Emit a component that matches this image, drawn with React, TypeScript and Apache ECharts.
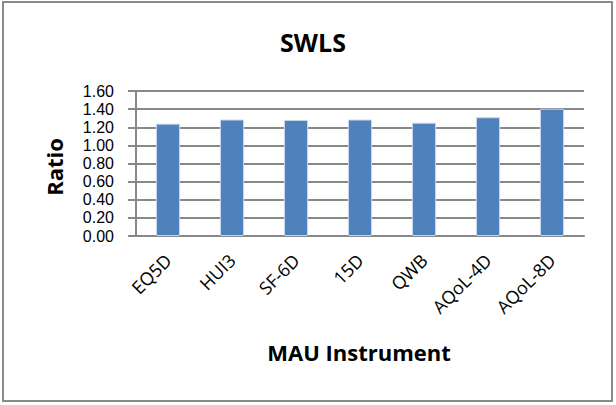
import React, { useEffect, useRef } from "react";
import * as echarts from "echarts";

const categories = ["EQ5D", "HUI3", "SF-6D", "15D", "QWB", "AQoL-4D", "AQoL-8D"];
const ratios = [1.24, 1.285, 1.28, 1.285, 1.25, 1.31, 1.405];
const titleText = "SWLS";
const yName = "Ratio";
const xName = "MAU Instrument";

const FONT = "'Open Sans', 'Liberation Sans', sans-serif";
const TICK_FONT = "'Liberation Sans', Arial, sans-serif";

export default function App() {
  const ref = useRef<HTMLDivElement>(null);
  useEffect(() => {
    if (!ref.current) return;
    const chart = echarts.init(ref.current, null, { renderer: "svg" });
    chart.setOption({
      animation: false,
      backgroundColor: "#ffffff",
      textStyle: { fontFamily: FONT },
      title: {
        text: titleText,
        left: 308,
        top: 24,
        textAlign: "center",
        textStyle: { fontSize: 25, fontWeight: "bold", color: "#000", fontFamily: FONT },
      },
      graphic: [
        {
          type: "rect",
          shape: { x: 3, y: 2, width: 609, height: 399 },
          style: { fill: "none", stroke: "#8a8a8a", lineWidth: 2 },
        },
        {
          type: "text",
          x: 359,
          y: 352,
          style: {
            text: xName,
            fontSize: 22,
            fontWeight: "bold",
            fontFamily: FONT,
            fill: "#000",
            align: "center",
            verticalAlign: "middle",
          },
        },
        {
          type: "text",
          x: 54,
          y: 167,
          rotation: Math.PI / 2,
          style: {
            text: yName,
            fontSize: 22,
            fontWeight: "bold",
            fontFamily: FONT,
            fill: "#000",
            align: "center",
            verticalAlign: "middle",
          },
        },
      ],
      grid: { left: 136, top: 91, width: 448, height: 145, containLabel: false },
      xAxis: {
        type: "category",
        data: categories,
        axisLine: { lineStyle: { color: "#888", width: 2 } },
        axisTick: { show: false },
        axisLabel: {
          rotate: 45,
          interval: 0,
          margin: 21,
          fontSize: 18,
          color: "#000",
          fontFamily: FONT,
        },
      },
      yAxis: {
        type: "value",
        min: 0,
        max: 1.6,
        interval: 0.2,
        axisLine: { show: true, lineStyle: { color: "#888", width: 2 } },
        axisTick: { show: true, length: 8, lineStyle: { color: "#888", width: 2 } },
        splitLine: { lineStyle: { color: "#888", width: 2 } },
        axisLabel: {
          formatter: (v: number) => v.toFixed(2),
          fontSize: 16,
          lineHeight: 16,
          color: "#000",
          margin: 22,
          fontFamily: TICK_FONT,
        },
      },
      series: [
        {
          type: "bar",
          data: ratios,
          barWidth: 24,
          itemStyle: { color: "#4f81bd", borderColor: "#c6d4ea", borderWidth: 1 },
        },
      ],
    });
    return () => chart.dispose();
  }, []);
  return (
    <div
      ref={ref}
      style={{ position: "fixed", left: 0, top: 0, width: 616, height: 405 }}
    />
  );
}
